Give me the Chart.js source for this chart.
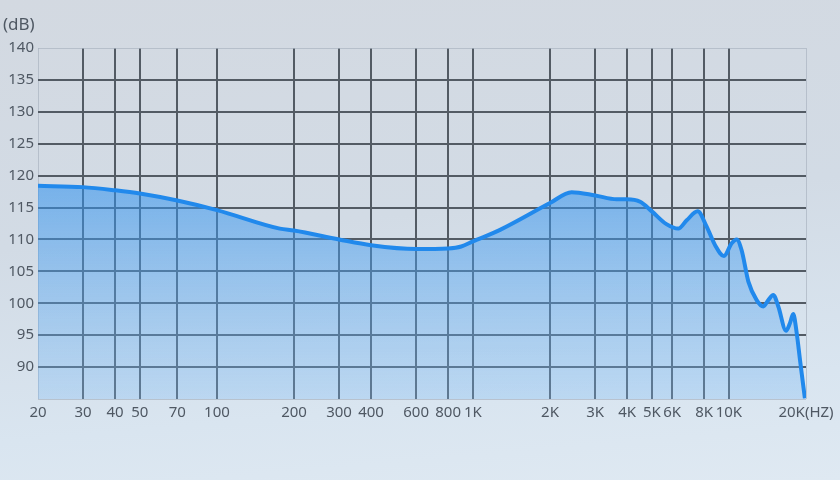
<!DOCTYPE html>
<html lang="zh">
<head>
    <meta charset="UTF-8">
    <title>频响曲线</title>
    <script src="https://cdn.jsdelivr.net/npm/chart.js"></script>
    <style>
        html, body { margin: 0; padding: 0; }
        body { width: 840px; height: 480px; overflow: hidden;
               background: linear-gradient(175deg, #d3d9e1 0%, #d2dbe5 45%, #d9e5f0 80%, #dfe9f2 100%); }
        canvas { display: block; }
    </style>
</head>
<body>
    <canvas id="frChart" width="840" height="480"></canvas>

    <script>
        // frequency (Hz) and level (dB)
        const freqs = [20, 30, 40, 50, 70, 100, 176, 200, 300, 400, 600, 800, 900, 1000, 1276,
            2000, 2430, 3000, 3640, 4000, 4500, 5000, 5700, 6340, 6840, 7550, 8185, 8830, 9560,
            10250, 10720, 11210, 11910, 12830, 13620, 14250, 14900, 15590, 16710, 17320, 17830,
            18400, 18950, 19800];
        const levels = [118.4, 118.2, 117.7, 117.2, 116.1, 114.6, 111.7, 111.4, 110.0, 109.1, 108.5, 108.6, 108.9, 109.7, 111.5,
            115.7, 117.4, 116.9, 116.3, 116.3, 115.9, 114.4, 112.4, 111.7, 113.0, 114.4, 112.0, 109.1, 107.4,
            109.4, 110.0, 108.3, 103.4, 100.5, 99.5, 100.5, 101.3, 99.5, 95.7, 96.9, 98.3,
            95.3, 91.1, 85.1];

        const xTicks = [20, 30, 40, 50, 70, 100, 200, 300, 400, 600, 800, 1000, 2000, 3000, 4000, 5000, 6000, 8000, 10000, 20000];
        const xLabels = ['20', '30', '40', '50', '70', '100', '200', '300', '400', '600', '800', '1K', '2K', '3K', '4K', '5K', '6K', '8K', '10K', '20K(HZ)'];

        const gridDark = '#535b64';
        const gridLight = 'rgba(170,180,192,0.7)';
        const textColor = '#4f5863';
        const font = { family: '"Noto Sans", "DejaVu Sans", sans-serif', size: 15 };

        const unitLabel = {
            id: 'unitLabel',
            afterDraw(chart) {
                const ctx = chart.ctx;
                ctx.save();
                ctx.fillStyle = textColor;
                ctx.font = '17px ' + font.family;
                ctx.textBaseline = 'middle';
                ctx.textAlign = 'left';
                ctx.fillText('(dB)', 3, 25);
                ctx.restore();
            }
        };

        new Chart(document.getElementById('frChart'), {
            type: 'line',
            data: {
                datasets: [{
                    data: freqs.map((f, i) => ({ x: f, y: levels[i] })),
                    borderColor: '#2189ec',
                    borderWidth: 4,
                    pointRadius: 0,
                    cubicInterpolationMode: 'monotone',
                    fill: 'start',
                    backgroundColor: (c) => {
                        const area = c.chart.chartArea;
                        if (!area) return 'rgba(60,150,235,0.5)';
                        const g = c.chart.ctx.createLinearGradient(0, area.top + 120, 0, area.bottom);
                        g.addColorStop(0, 'rgba(40,142,238,0.58)');
                        g.addColorStop(1, 'rgba(120,185,245,0.3)');
                        return g;
                    }
                }]
            },
            options: {
                responsive: false,
                animation: false,
                layout: { padding: { top: 48, right: 34, left: 0, bottom: 0 } },
                plugins: { legend: { display: false }, tooltip: { enabled: false } },
                scales: {
                    x: {
                        type: 'logarithmic',
                        min: 20,
                        max: 20000,
                        afterBuildTicks: axis => { axis.ticks = xTicks.map(v => ({ value: v })); },
                        afterFit: axis => { axis.height = 81; },
                        ticks: {
                            autoSkip: false,
                            maxRotation: 0,
                            padding: 5,
                            color: textColor,
                            font: font,
                            callback: v => { const i = xTicks.indexOf(v); return i >= 0 ? xLabels[i] : ''; }
                        },
                        grid: {
                            drawTicks: false,
                            color: c => (c.tick && (c.tick.value === 20 || c.tick.value === 20000)) ? gridLight : gridDark,
                            lineWidth: c => (c.tick && (c.tick.value === 20 || c.tick.value === 20000)) ? 1 : 2
                        },
                        border: { display: false }
                    },
                    y: {
                        min: 85,
                        max: 140,
                        afterFit: axis => { axis.width = 38; },
                        ticks: {
                            stepSize: 5,
                            padding: 4,
                            color: textColor,
                            font: font,
                            callback: v => v === 85 ? '' : v
                        },
                        grid: {
                            drawTicks: false,
                            color: c => (c.tick && (c.tick.value === 85 || c.tick.value === 140)) ? gridLight : gridDark,
                            lineWidth: c => (c.tick && (c.tick.value === 85 || c.tick.value === 140)) ? 1 : 2
                        },
                        border: { display: false }
                    }
                }
            },
            plugins: [unitLabel]
        });
    </script>
</body>
</html>
